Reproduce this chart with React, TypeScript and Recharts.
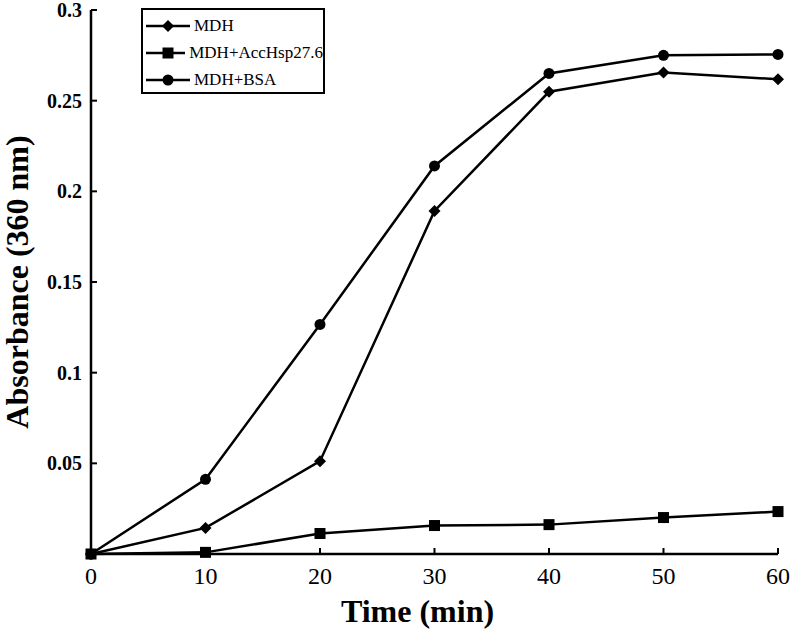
import { LineChart, Line, XAxis, YAxis, Legend } from 'recharts';

const times = [0, 10, 20, 30, 40, 50, 60];
const mdh = [0, 0.0144, 0.0512, 0.1892, 0.2549, 0.2655, 0.2618];
const mdhAccHsp = [0, 0.0009, 0.0113, 0.0157, 0.0162, 0.0201, 0.0234];
const mdhBsa = [0, 0.0412, 0.1266, 0.214, 0.265, 0.275, 0.2755];
const yTicks = [0.05, 0.1, 0.15, 0.2, 0.25, 0.3];
const seriesNames = ['MDH', 'MDH+AccHsp27.6', 'MDH+BSA'];

const data = times.map((t, i) => ({
    t,
    mdh: mdh[i],
    acc: mdhAccHsp[i],
    bsa: mdhBsa[i],
}));

const FONT = '"Liberation Serif", "Times New Roman", serif';

const Diamond = ({ cx, cy, r = 6 }: any) => (
    <polygon points={`${cx},${cy - r} ${cx + r},${cy} ${cx},${cy + r} ${cx - r},${cy}`} fill="#000" />
);
const Square = ({ cx, cy, r = 5.5 }: any) => (
    <rect x={cx - r} y={cy - r} width={r * 2} height={r * 2} fill="#000" />
);
const Circle = ({ cx, cy, r = 5.5 }: any) => <circle cx={cx} cy={cy} r={r} fill="#000" />;

const markers = [Diamond, Square, Circle];

const XTick = (props: any) => {
    const { x, y, payload } = props;
    const axisY = y - 13;
    return (
        <g>
            {payload.value !== 0 && (
                <line x1={x} x2={x} y1={axisY} y2={axisY - 6} stroke="#000" strokeWidth={2} />
            )}
            <text x={x} y={y} dy="0.71em" textAnchor="middle" fontFamily={FONT} fontSize={24} fill="#000">
                {payload.value}
            </text>
        </g>
    );
};

const YTick = (props: any) => {
    const { x, y, payload } = props;
    const axisX = x + 9;
    return (
        <g>
            <line x1={axisX} x2={axisX + 6} y1={y} y2={y} stroke="#000" strokeWidth={2} />
            <text x={x} y={y} dy="0.355em" textAnchor="end" fontFamily={FONT} fontSize={20} fontWeight="bold" fill="#000">
                {String(payload.value)}
            </text>
        </g>
    );
};

const LegendBox = () => (
    <div
        style={{
            border: '2px solid #000',
            width: 184,
            height: 86,
            boxSizing: 'border-box',
            background: '#fff',
            fontFamily: FONT,
            fontSize: 17,
            paddingTop: 2,
        }}
    >
        {seriesNames.map((name, i) => {
            const M = markers[i];
            return (
                <div key={name} style={{ display: 'flex', alignItems: 'center', height: 27 }}>
                    <svg width={44} height={14} style={{ marginLeft: 3 }}>
                        <line x1={0} x2={44} y1={7} y2={7} stroke="#000" strokeWidth={2.5} />
                        <M cx={22} cy={7} />
                    </svg>
                    <span style={{ marginLeft: 4, color: '#000' }}>{name}</span>
                </div>
            );
        })}
    </div>
);

export default function App() {
    return (
        <div style={{ position: 'absolute', left: 0, top: 0, background: '#fff' }}>
            <LineChart width={793} height={629} data={data} margin={{ top: 10, right: 15, left: 0, bottom: 0 }}>
                <XAxis
                    dataKey="t"
                    type="number"
                    domain={[0, 60]}
                    ticks={times}
                    height={75}
                    tickSize={0}
                    tickMargin={13}
                    tickLine={false}
                    tick={<XTick />}
                    axisLine={{ stroke: '#000', strokeWidth: 2.5 }}
                    label={{
                        value: 'Time (min)',
                        position: 'insideBottom',
                        offset: 7,
                        dx: -17,
                        style: { fontFamily: FONT, fontSize: 32, fontWeight: 'bold', fill: '#000' },
                    }}
                />
                <YAxis
                    type="number"
                    domain={[0, 0.3]}
                    ticks={yTicks}
                    width={91}
                    tickSize={0}
                    tickMargin={9}
                    tickLine={false}
                    tick={<YTick />}
                    axisLine={{ stroke: '#000', strokeWidth: 2.5 }}
                    label={{
                        value: 'Absorbance (360 nm)',
                        angle: -90,
                        position: 'insideLeft',
                        offset: 17,
                        style: { fontFamily: FONT, fontSize: 32, fontWeight: 'bold', fill: '#000', textAnchor: 'middle' },
                    }}
                />
                <Legend
                    layout="vertical"
                    align="center"
                    verticalAlign="middle"
                    content={<LegendBox />}
                    wrapperStyle={{ position: 'absolute', left: 141, top: 8, width: 184, height: 86 }}
                />
                <Line
                    dataKey="mdh"
                    name={seriesNames[0]}
                    stroke="#000"
                    strokeWidth={2.5}
                    dot={(p: any) => <Diamond key={`d${p.index}`} cx={p.cx} cy={p.cy} />}
                    activeDot={false}
                    isAnimationActive={false}
                />
                <Line
                    dataKey="bsa"
                    name={seriesNames[2]}
                    stroke="#000"
                    strokeWidth={2.5}
                    dot={(p: any) => <Circle key={`c${p.index}`} cx={p.cx} cy={p.cy} />}
                    activeDot={false}
                    isAnimationActive={false}
                />
                <Line
                    dataKey="acc"
                    name={seriesNames[1]}
                    stroke="#000"
                    strokeWidth={2.5}
                    dot={(p: any) => <Square key={`s${p.index}`} cx={p.cx} cy={p.cy} />}
                    activeDot={false}
                    isAnimationActive={false}
                />
            </LineChart>
        </div>
    );
}
